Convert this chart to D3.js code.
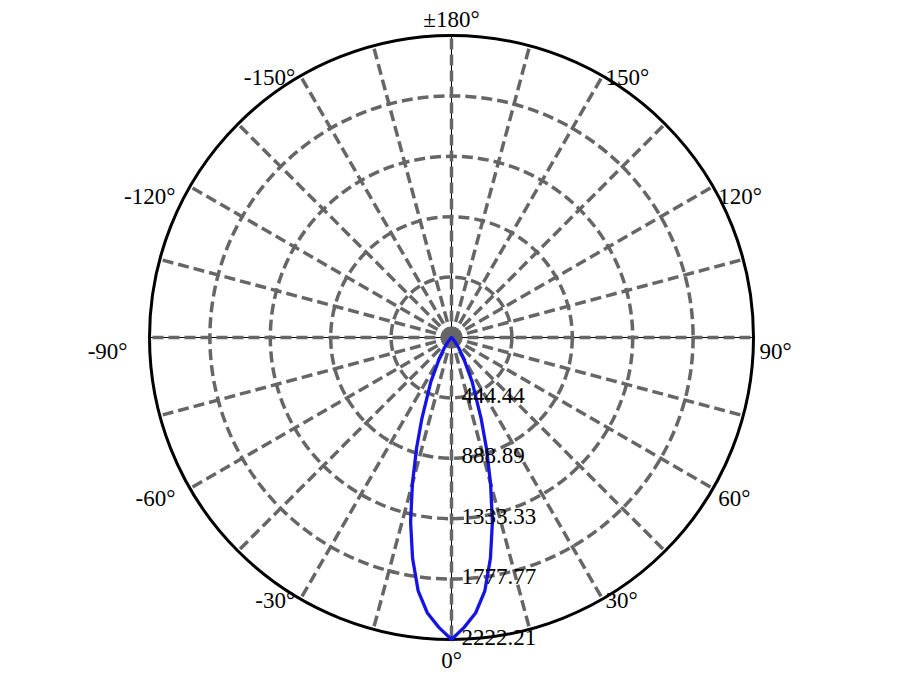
<!DOCTYPE html>
<html>
<head>
<meta charset="utf-8">
<script src="https://cdn.jsdelivr.net/npm/d3@7"></script>
<style>
  body { margin: 0; background: #fff; }
  svg { display: block; }
  text { font-family: "Liberation Serif", "Times New Roman", serif; fill: #000; }
</style>
</head>
<body>
<svg width="924" height="686"></svg>
<script>
// intensity (cd) vs angle (deg), one side of the beam; mirrored for negative angles
var angles = [0, 2.5, 5, 7.5, 10, 12.5, 15, 17.5, 20, 25, 30, 35, 40, 45, 50, 60, 90, 120, 150, 180];
var intensity = [2222, 2135, 2035, 1880, 1650, 1390, 1110, 855, 640, 360, 180, 90, 35, 10, 0, 0, 0, 0, 0, 0];

var radialTicks = [444.44, 888.89, 1333.33, 1777.77, 2222.21];
var radialLabels = ["444.44", "888.89", "1333.33", "1777.77", "2222.21"];
var angleTicks = [0, 30, 60, 90, 120, 150, 180, -150, -120, -90, -60, -30];
var angleLabels = ["0°", "30°", "60°", "90°", "120°", "150°", "±180°", "-150°", "-120°", "-90°", "-60°", "-30°"];

var svg = d3.select("svg"),
    cx = 451.5, cy = 337.5, R = 302;

var r = d3.scaleLinear().domain([0, 2222.21]).range([0, R]);
var rad = function (deg) { return deg * Math.PI / 180; };

var g = svg.append("g").attr("transform", "translate(" + cx + "," + cy + ")");

// thin axis lines
g.append("line").attr("x1", -R).attr("x2", R).attr("y1", 0).attr("y2", 0)
    .attr("stroke", "#000").attr("stroke-width", 1);
g.append("line").attr("x1", 0).attr("x2", 0).attr("y1", -R).attr("y2", R)
    .attr("stroke", "#000").attr("stroke-width", 1);

// spokes every 15 deg
g.selectAll(".spoke")
  .data(d3.range(0, 360, 15))
  .enter().append("line")
    .attr("class", "spoke")
    .attr("x1", 0).attr("y1", 0)
    .attr("x2", function(d) { return R * Math.sin(rad(d)); })
    .attr("y2", function(d) { return R * Math.cos(rad(d)); })
    .attr("stroke", "#666")
    .attr("stroke-width", 3.5)
    .attr("stroke-dasharray", "11,5");

// rings
g.selectAll(".ring")
  .data(radialTicks.slice(0, -1))
  .enter().append("circle")
    .attr("class", "ring")
    .attr("r", function(d) { return r(d); })
    .attr("fill", "none")
    .attr("stroke", "#666")
    .attr("stroke-width", 3.5)
    .attr("stroke-dasharray", "11,5");

g.append("circle")
    .attr("r", R)
    .attr("fill", "none")
    .attr("stroke", "#000")
    .attr("stroke-width", 3);

// curve
var pts = [];
for (var i = 0; i < angles.length; i++) pts.push([angles[i], intensity[i]]);
for (var j = angles.length - 2; j > 0; j--) pts.push([-angles[j], intensity[j]]);
pts.sort(function(a, b) { return a[0] - b[0]; });

var line = d3.lineRadial()
    .angle(function(d) { return Math.PI - rad(d[0]); })
    .radius(function(d) { return r(d[1]); })
    .curve(d3.curveLinearClosed);

g.append("path")
    .datum(pts)
    .attr("d", line)
    .attr("fill", "none")
    .attr("stroke", "#1414e6")
    .attr("stroke-width", 3.3)
    .attr("stroke-linejoin", "round");

// radial tick labels
g.selectAll(".rlabel")
  .data(radialTicks)
  .enter().append("text")
    .attr("class", "rlabel")
    .attr("x", 10)
    .attr("y", function(d) { return r(d) + 5; })
    .attr("font-size", 23)
    .text(function(d, i) { return radialLabels[i]; });

// angle labels
g.selectAll(".alabel")
  .data(angleTicks)
  .enter().append("text")
    .attr("class", "alabel")
    .attr("font-size", 23)
    .attr("text-anchor", function(d) {
      var s = Math.sin(rad(d));
      return Math.abs(s) < 0.01 ? "middle" : (s > 0 ? "start" : "end");
    })
    .attr("x", function(d) {
      var s = Math.sin(rad(d));
      var pad = s > 0 ? 6 : 10 + 12 * s * s * s * s;
      return (R + pad) * s;
    })
    .attr("y", function(d) {
      var s = Math.sin(rad(d)), c = Math.cos(rad(d));
      if (Math.abs(s) < 0.01) return c > 0 ? R + 28 : -R - 9;
      return R * c + 5 + 16 * s * s;
    })
    .text(function(d, i) { return angleLabels[i]; });
</script>
</body>
</html>
